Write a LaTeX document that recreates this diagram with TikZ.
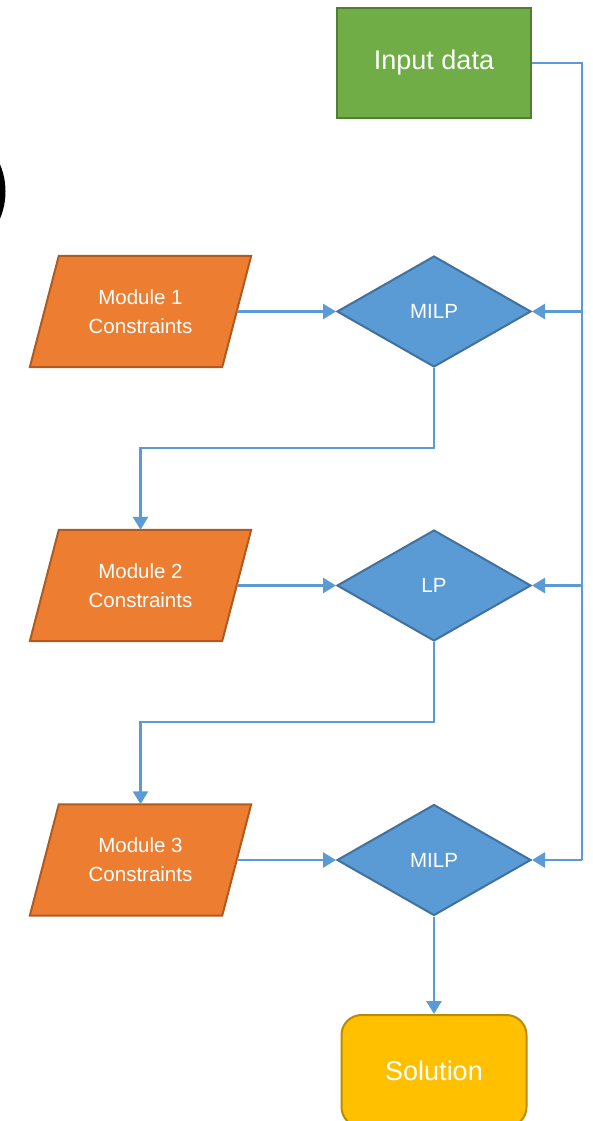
\documentclass[tikz,border=0pt]{standalone}
\usepackage{fontspec}
\setmainfont{Liberation Sans}
\usetikzlibrary{shapes.geometric,arrows.meta,backgrounds}
\definecolor{cgreen}{HTML}{70AD47}
\definecolor{cgreenb}{HTML}{507E32}
\definecolor{corange}{HTML}{ED7D31}
\definecolor{corangeb}{HTML}{AE5A21}
\definecolor{cblue}{HTML}{5B9BD5}
\definecolor{cblueb}{HTML}{41719C}
\definecolor{cyellow}{HTML}{FFC000}
\definecolor{cyellowb}{HTML}{BC8C00}
\tikzset{
  bigtxt/.style={text=white,font=\fontsize{27}{32}\selectfont},
  smalltxt/.style={text=white,font=\fontsize{20.5}{29}\selectfont,align=center},
  inbox/.style={rectangle,draw=cgreenb,fill=cgreen,line width=2pt,minimum width=194pt,minimum height=110pt,inner sep=0pt,bigtxt},
  modbox/.style={rectangle,minimum width=192pt,minimum height=111pt,inner sep=0pt,smalltxt},
  modshape/.style={draw=corangeb,fill=corange,line width=2pt,line join=miter},
  decbox/.style={diamond,aspect=1.75,draw=cblueb,fill=cblue,line width=2pt,minimum width=194pt,minimum height=111pt,inner sep=0pt,smalltxt},
  solbox/.style={rectangle,rounded corners=20pt,draw=cyellowb,fill=cyellow,line width=2pt,minimum width=185pt,minimum height=112pt,inner sep=0pt,bigtxt},
  conn/.style={draw=cblue,line width=2.6pt},
  arr/.style={conn,-{Triangle[length=13pt,width=15pt]}}
}
\newcommand{\paragram}[1]{%
  \draw[modshape] ([xshift=14.5pt]#1.north west) -- ([xshift=14.5pt]#1.north east)
    -- ([xshift=-14.5pt]#1.south east) -- ([xshift=-14.5pt]#1.south west) -- cycle;}
\begin{document}
\begin{tikzpicture}[x=1pt,y=-1pt]
\useasboundingbox (0,0) rectangle (593,1121);
% partial black shape at left edge
\begin{scope}
\clip (0,0) rectangle (593,1121);
\fill[black] (-64,191.5) circle (69.5);
\end{scope}
% nodes
\node[inbox] (input) at (434,63) {Input data};
\node[modbox] (m1) at (140.5,311.5) {Module 1\\Constraints};
\node[modbox] (m2) at (140.5,585.5) {Module 2\\Constraints};
\node[modbox] (m3) at (140.5,860) {Module 3\\Constraints};
\begin{scope}[on background layer]
\paragram{m1}
\paragram{m2}
\paragram{m3}
\end{scope}
\node[decbox] (d1) at (434,311.5) {MILP};
\node[decbox] (d2) at (434,585.5) {LP};
\node[decbox] (d3) at (434,860) {MILP};
\node[solbox] (sol) at (434,1071) {Solution};
% bus coordinates
\coordinate (busT) at (582,63);
\coordinate (bus1) at (582,311.5);
\coordinate (bus2) at (582,585.5);
\coordinate (bus3) at (582,860);
\coordinate (j1) at (140.5,448);
\coordinate (j2) at (140.5,722);
% connectors
\draw[conn] (input.east) -- (busT) -- (bus3);
\draw[arr] (bus1) -- (d1.east);
\draw[arr] (bus2) -- (d2.east);
\draw[arr] (bus3) -- (d3.east);
\draw[arr] (m1.east) -- (d1.west);
\draw[arr] (m2.east) -- (d2.west);
\draw[arr] (m3.east) -- (d3.west);
\draw[arr] (d1.south) |- (j1) -- (m2.north);
\draw[arr] (d2.south) |- (j2) -- (m3.north);
\draw[arr] (d3.south) -- (sol.north);
\end{tikzpicture}
\end{document}
